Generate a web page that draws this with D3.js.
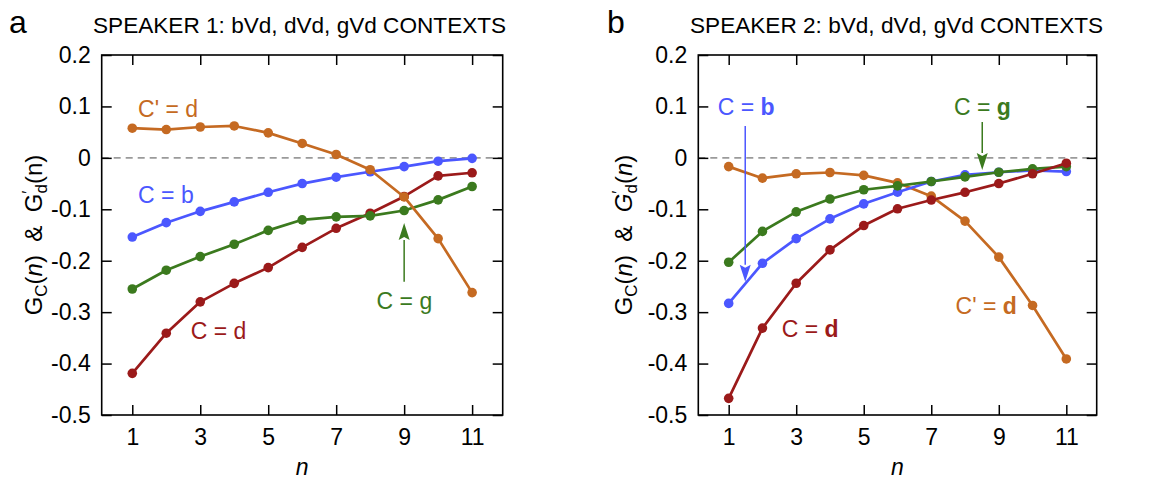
<!DOCTYPE html>
<html><head><meta charset="utf-8">
<script src="https://cdn.jsdelivr.net/npm/d3@7"></script>
<style>
html,body{margin:0;padding:0;background:#fff;}
svg{display:block;font-family:"Liberation Sans",Arial,sans-serif;}
</style></head>
<body>
<svg id="chart" width="1170" height="481"></svg>
<script>
// ---- data ----
const nValues = [1,2,3,4,5,6,7,8,9,10,11];
const xTicks = [1,3,5,7,9,11];
const yTicks = [0.2,0.1,0,-0.1,-0.2,-0.3,-0.4,-0.5];
const yTickLabels = ["0.2","0.1","0","-0.1","-0.2","-0.3","-0.4","-0.5"];

// Speaker 1
const s1_b  = [-0.154,-0.126,-0.104,-0.0855,-0.067,-0.050,-0.0376,-0.027,-0.017,-0.0065,-0.001];
const s1_g  = [-0.255,-0.2185,-0.192,-0.168,-0.141,-0.1205,-0.1147,-0.1128,-0.1024,-0.0817,-0.0557];
const s1_d  = [-0.419,-0.341,-0.280,-0.244,-0.2134,-0.174,-0.137,-0.1076,-0.075,-0.035,-0.029];
const s1_dp = [0.0577,0.055,0.060,0.062,0.0486,0.028,0.0065,-0.023,-0.076,-0.157,-0.262];
// Speaker 2
const s2_b  = [-0.283,-0.205,-0.157,-0.1186,-0.0894,-0.0668,-0.046,-0.033,-0.028,-0.0246,-0.0266];
const s2_g  = [-0.203,-0.143,-0.105,-0.080,-0.062,-0.0544,-0.046,-0.037,-0.028,-0.0214,-0.017];
const s2_d  = [-0.4676,-0.331,-0.2438,-0.179,-0.1316,-0.099,-0.082,-0.067,-0.050,-0.031,-0.0104];
const s2_dp = [-0.017,-0.0395,-0.031,-0.0285,-0.034,-0.0486,-0.0745,-0.123,-0.193,-0.287,-0.391];

const titles = ["SPEAKER 1: bVd, dVd, gVd CONTEXTS", "SPEAKER 2: bVd, dVd, gVd CONTEXTS"];
const panelLetters = ["a", "b"];

const COL = {b:"#4b57ff", g:"#3b7a1e", d:"#9b1a1a", dp:"#c56a22"};

const svg = d3.select("#chart");

function panel(cfg){
  const g = svg.append("g");
  const x = d3.scaleLinear().domain([0.1, 11.9]).range([cfg.left, cfg.right]);
  const y = d3.scaleLinear().domain([-0.5, 0.2]).range([415, 55]);

  // zero dashed line
  g.append("line").attr("x1", x.range()[0]).attr("x2", x.range()[1])
    .attr("y1", y(0)).attr("y2", y(0))
    .attr("stroke", "#9a9a9a").attr("stroke-width", 1.6).attr("stroke-dasharray", "7,5");

  // axes with inward ticks
  const tick = 10;
  const axB = d3.axisBottom(x).tickValues(xTicks).tickSize(-tick).tickPadding(14).tickFormat(d3.format("d"));
  const axT = d3.axisTop(x).tickValues(xTicks).tickSize(-tick).tickFormat("");
  const axL = d3.axisLeft(y).tickValues(yTicks).tickSize(-tick).tickPadding(11)
      .tickFormat((d,i)=>yTickLabels[i]);
  const axR = d3.axisRight(y).tickValues(yTicks).tickSize(-tick).tickFormat("");
  const style = sel => {
    sel.selectAll(".domain").remove();
    sel.selectAll(".tick line").attr("stroke","#000").attr("stroke-width",1.5);
    sel.selectAll(".tick text").attr("font-size", 23).attr("fill","#000")
      .attr("font-family", '"Liberation Sans",Arial,sans-serif');
  };
  g.append("g").attr("transform", `translate(0,${y(-0.5)})`).call(axB).call(style);
  g.append("g").attr("transform", `translate(0,${y(0.2)})`).call(axT).call(style);
  g.append("g").attr("transform", `translate(${x.range()[0]},0)`).call(axL).call(style);
  g.append("g").attr("transform", `translate(${x.range()[1]},0)`).call(axR).call(style);

  // frame
  g.append("rect").attr("x", x.range()[0]).attr("y", y(0.2))
    .attr("width", x.range()[1]-x.range()[0]).attr("height", y(-0.5)-y(0.2))
    .attr("fill","none").attr("stroke","#000").attr("stroke-width",1.6);

  // series
  const line = d3.line().x((d,i)=>x(nValues[i])).y(d=>y(d));
  cfg.series.forEach(s=>{
    g.append("path").datum(s.values).attr("d", line)
      .attr("fill","none").attr("stroke", s.color).attr("stroke-width", 2.7)
      .attr("stroke-linejoin","round");
    g.selectAll(null).data(s.values).enter().append("circle")
      .attr("cx",(d,i)=>x(nValues[i])).attr("cy", d=>y(d)).attr("r",4.8)
      .attr("fill", s.color);
  });

  // arrows
  cfg.arrows.forEach(a=>{
    const x0 = x(a.n), yFrom = y(a.from), yTip = y(a.to);
    const dir = Math.sign(yTip - yFrom);
    const headLen = 17, headW = 5.5;
    g.append("line").attr("x1",x0).attr("x2",x0).attr("y1",yFrom).attr("y2",yTip - dir*headLen)
      .attr("stroke",a.color).attr("stroke-width",1.5);
    g.append("path").attr("d",
      `M${x0},${yTip} L${x0-headW},${yTip-dir*headLen} L${x0},${yTip-dir*(headLen-3)} L${x0+headW},${yTip-dir*headLen} Z`)
      .attr("fill",a.color);
  });

  // annotations
  cfg.labels.forEach(l=>{
    const t = g.append("text").attr("x", x(l.n)).attr("y", y(l.v))
      .attr("font-size", 23).attr("fill", l.color);
    t.append("tspan").text(l.pre);
    t.append("tspan").attr("font-weight", cfg.boldLetter ? "bold" : "normal").text(l.letter);
  });

  // title and letter
  svg.append("text").attr("x", cfg.titleX).attr("y", 33).attr("font-size", 22.6)
    .attr("fill","#000").text(cfg.title);
  svg.append("text").attr("x", cfg.letterX).attr("y", 33).attr("font-size", 32)
    .attr("fill","#000").text(cfg.letter);

  // x label
  svg.append("text").attr("x", (x.range()[0]+x.range()[1])/2).attr("y", 475)
    .attr("text-anchor","middle").attr("font-size", 23).attr("font-style","italic").text("n");

  // y label
  const yl = svg.append("text")
    .attr("transform", `translate(${cfg.yLabelX},${(y(0.2)+y(-0.5))/2}) rotate(-90)`)
    .attr("text-anchor","middle").attr("font-size", 24).attr("fill","#000");
  yl.append("tspan").text("G");
  yl.append("tspan").attr("font-size", 17).attr("dy", 5).text("C");
  yl.append("tspan").attr("dy", -5).text("(");
  yl.append("tspan").attr("font-style","italic").text("n");
  yl.append("tspan").text(")\u00a0\u00a0&\u00a0\u00a0");
  yl.append("tspan").attr("font-style", cfg.italicSecond ? "italic" : "normal").text("G");
  yl.append("tspan").attr("font-size", 17).attr("dy", -8).text("\u2032");
  yl.append("tspan").attr("font-size", 17).attr("dx", -3).attr("dy", 13).text("d");
  yl.append("tspan").attr("dy", -5).text("(");
  yl.append("tspan").attr("font-style", cfg.italicSecond ? "italic" : "normal").text("n");
  yl.append("tspan").text(")");
}

panel({
  left: 101.7, right: 502.7, titleX: 93, letterX: 9, yLabelX: 42,
  title: titles[0], letter: panelLetters[0], boldLetter: false, italicSecond: false,
  series: [
    {values: s1_d, color: COL.d},
    {values: s1_g, color: COL.g},
    {values: s1_b, color: COL.b},
    {values: s1_dp, color: COL.dp}
  ],
  arrows: [{n: 9, from: -0.241, to: -0.1267, color: COL.g}],
  labels: [
    {n: 1.17, v: 0.079, pre: "C' = ", letter: "d", color: COL.dp},
    {n: 1.17, v: -0.0878, pre: "C = ", letter: "b", color: COL.b},
    {n: 2.72, v: -0.352, pre: "C = ", letter: "d", color: COL.d},
    {n: 8.19, v: -0.294, pre: "C = ", letter: "g", color: COL.g}
  ]
});

panel({
  left: 698.3, right: 1096.7, titleX: 690, letterX: 607, yLabelX: 632,
  title: titles[1], letter: panelLetters[1], boldLetter: true, italicSecond: true,
  series: [
    {values: s2_dp, color: COL.dp},
    {values: s2_b, color: COL.b},
    {values: s2_g, color: COL.g},
    {values: s2_d, color: COL.d}
  ],
  arrows: [
    {n: 1.49, from: 0.062, to: -0.2408, color: COL.b},
    {n: 8.51, from: 0.0697, to: -0.0236, color: COL.g}
  ],
  labels: [
    {n: 0.675, v: 0.0833, pre: "C = ", letter: "b", color: COL.b},
    {n: 7.67, v: 0.0833, pre: "C = ", letter: "g", color: COL.g},
    {n: 2.57, v: -0.348, pre: "C = ", letter: "d", color: COL.d},
    {n: 7.72, v: -0.3036, pre: "C' = ", letter: "d", color: COL.dp}
  ]
});
</script>
</body></html>
